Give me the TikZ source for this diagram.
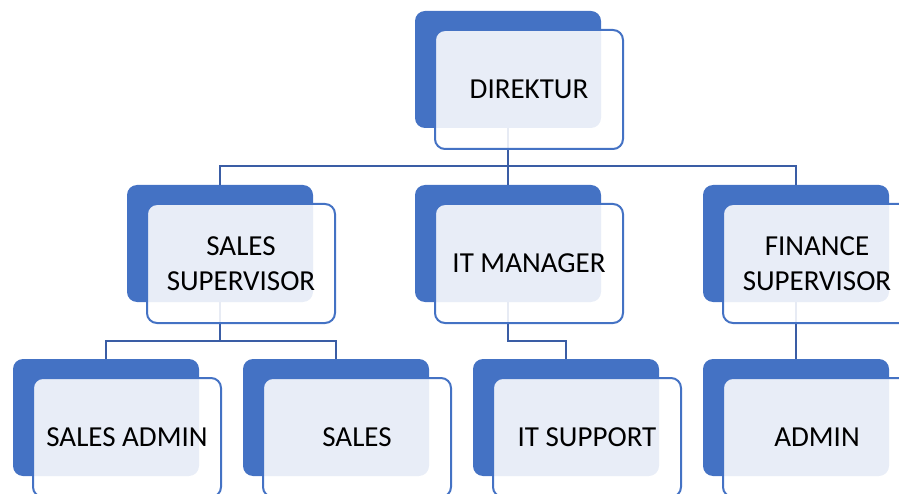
\documentclass[tikz,border=0pt]{standalone}
\usepackage{fontspec}
\setmainfont{Carlito}
\definecolor{accent}{RGB}{68,114,196}
\definecolor{connc}{RGB}{58,93,165}
\tikzset{
  backbox/.style={fill=accent, draw=none, rounded corners=10pt, minimum width=186pt, minimum height=117pt, inner sep=0pt, outer sep=0pt, anchor=north west},
  frontbox/.style={draw=accent, line width=2pt, fill=white, fill opacity=0.88, text opacity=1, rounded corners=10pt, minimum width=188pt, minimum height=119pt, inner sep=0pt, outer sep=0pt, anchor=north west, align=center, font=\fontsize{29}{35}\selectfont},
  conn/.style={draw=connc, line width=2.2pt}
}
\begin{document}
\begin{tikzpicture}[x=1pt,y=-1pt]
\useasboundingbox (0,0) rectangle (899,494);
\clip (0,0) rectangle (899,494);
% back boxes
\node[backbox] (bD) at (415,11) {};
\node[backbox] (bS) at (127,185) {};
\node[backbox] (bI) at (415,185) {};
\node[backbox] (bF) at (703,185) {};
\node[backbox] (bSA) at (13,359) {};
\node[backbox] (bSL) at (243,359) {};
\node[backbox] (bIS) at (473,359) {};
\node[backbox] (bAD) at (703,359) {};
% connectors
\draw[conn] (bD.south) -- ++(0,38) -| (bS.north);
\draw[conn] (bD.south) -- ++(0,38) -| (bF.north);
\draw[conn] (bD.south) -- (bI.north);
\draw[conn] (bS.south) -- ++(0,39) -| (bSA.north);
\draw[conn] (bS.south) -- ++(0,39) -| (bSL.north);
\draw[conn] (bI.south) -- ++(0,39) -| (bIS.north);
\draw[conn] (bF.south) -- (bAD.north);
% front boxes
\node[frontbox] (fD) at (435,30) {DIREKTUR};
\node[frontbox] (fS) at (147,204) {SALES\\SUPERVISOR};
\node[frontbox] (fI) at (435,204) {IT MANAGER};
\node[frontbox] (fF) at (723,204) {FINANCE\\SUPERVISOR};
\node[frontbox] (fSA) at (33,378) {SALES ADMIN};
\node[frontbox] (fSL) at (263,378) {SALES};
\node[frontbox] (fIS) at (493,378) {IT SUPPORT};
\node[frontbox] (fAD) at (723,378) {ADMIN};
\end{tikzpicture}
\end{document}
